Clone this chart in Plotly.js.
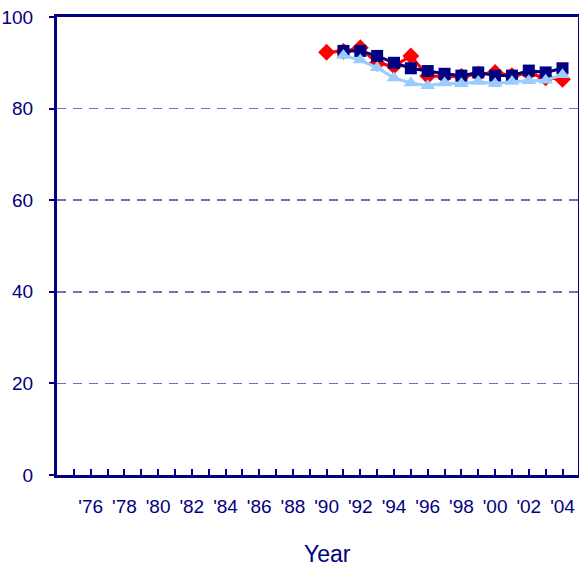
<!DOCTYPE html>
<html>
<head>
<meta charset="utf-8">
<script src="https://cdn.plot.ly/plotly-3.0.1.min.js"></script>
<style>html,body{margin:0;padding:0;background:#fff;}#chart{width:579px;height:567px;}</style>
</head>
<body>
<div id="chart"></div>
<script>
// Data
var yearsRed = [1990,1991,1992,1993,1994,1995,1996,1997,1998,1999,2000,2001,2002,2003,2004];
var valuesRed = [92.3,92.5,93.3,89.9,89.3,91.5,87.1,87.0,87.0,87.5,87.9,87.2,87.7,86.7,86.4];
var yearsNavy = [1991,1992,1993,1994,1995,1996,1997,1998,1999,2000,2001,2002,2003,2004];
var valuesNavy = [92.6,92.6,91.5,90.0,88.8,88.2,87.6,87.2,87.9,87.2,87.2,88.3,87.9,88.8];
var yearsLight = [1991,1992,1993,1994,1995,1996,1997,1998,1999,2000,2001,2002,2003,2004];
var valuesLight = [91.6,90.6,88.9,86.7,85.6,85.0,85.6,85.4,85.9,85.4,85.9,86.1,86.2,87.4];
var tickYears = [1975,1976,1977,1978,1979,1980,1981,1982,1983,1984,1985,1986,1987,1988,1989,1990,1991,1992,1993,1994,1995,1996,1997,1998,1999,2000,2001,2002,2003,2004];
var tickLabels = tickYears.map(function(y){ return (y % 2 === 0) ? "'" + String(y).slice(2) : ""; });
var yTicks = [0,20,40,60,80,100];

var navy = '#000080';
var font = 'Liberation Sans, Arial, sans-serif';

var traces = [
  {x: yearsRed, y: valuesRed, mode: 'lines+markers', type: 'scatter',
   line: {color: '#ff0000', width: 3}, marker: {symbol: 'diamond', size: 13, color: '#ff0000'}},
  {x: yearsNavy, y: valuesNavy, mode: 'lines+markers', type: 'scatter',
   line: {color: navy, width: 3}, marker: {symbol: 'square', size: 12, color: navy}},
  {x: yearsLight, y: valuesLight, mode: 'lines+markers', type: 'scatter',
   line: {color: '#99ccff', width: 3}, marker: {symbol: 'triangle-up', size: 13, color: '#99ccff'}}
];

var layout = {
  width: 579, height: 567,
  margin: {l: 57, r: 1, t: 17, b: 92},
  paper_bgcolor: '#fff', plot_bgcolor: '#fff',
  showlegend: false,
  font: {family: font, color: navy, size: 19},
  xaxis: {
    range: [1974, 2004.92],
    tickvals: tickYears, ticktext: tickLabels,
    ticks: 'inside', ticklen: 6, tickwidth: 2, tickcolor: navy,
    showline: true, linecolor: navy, linewidth: 3, mirror: true,
    showgrid: false, zeroline: false,
    tickfont: {family: font, size: 19, color: navy},
    tickangle: 0,
    ticklabelstandoff: 12
  },
  yaxis: {
    range: [0, 100],
    tickvals: yTicks,
    ticks: 'outside', ticklen: 5, tickwidth: 2, tickcolor: navy,
    showline: true, linecolor: navy, linewidth: 3, mirror: true,
    showgrid: true, gridcolor: '#7070c0', gridwidth: 1.5, griddash: '9px,7px',
    zeroline: false,
    tickfont: {family: font, size: 19, color: navy},
    ticklabelstandoff: 12
  },
  annotations: [{
    text: 'Year', xref: 'paper', yref: 'paper', x: 0.519, y: -0.172,
    xanchor: 'center', yanchor: 'middle', showarrow: false,
    font: {family: font, size: 23, color: navy}
  }]
};

Plotly.newPlot('chart', traces, layout, {displayModeBar: false, staticPlot: true});
</script>
</body>
</html>
